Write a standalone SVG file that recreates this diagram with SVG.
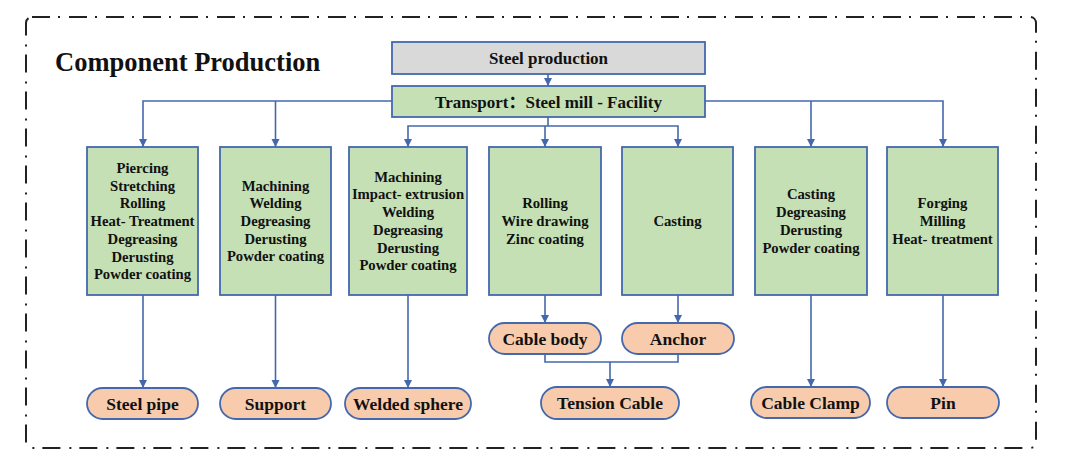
<svg xmlns="http://www.w3.org/2000/svg" width="1080" height="462" viewBox="0 0 1080 462">
<style>
text{font-family:"Liberation Serif","Times New Roman",serif;font-weight:bold;fill:#111;text-anchor:middle}
.cjk{font-family:"Liberation Serif","Noto Sans CJK SC",serif}
.box{fill:#c5e0b4;stroke:#4468ad;stroke-width:1.8}
.gray{fill:#d9d9d9;stroke:#4468ad;stroke-width:1.8}
.pill{fill:#f8cbad;stroke:#4468ad;stroke-width:1.8}
.step{font-size:14.7px}
.hdr{font-size:17px}
.pt{font-size:17.5px}
.con{fill:none;stroke:#4468ad;stroke-width:1.6}
.arr{marker-end:url(#ah)}
</style>
<defs>
<marker id="ah" markerUnits="userSpaceOnUse" markerWidth="10" markerHeight="10" viewBox="0 0 10 10" refX="9" refY="5" orient="auto">
<path d="M1,1 L9,5 L1,9 Z" fill="#4468ad"/>
</marker>
</defs>
<rect x="26" y="17" width="1010" height="431" rx="6" fill="none" stroke="#222" stroke-width="2" stroke-dasharray="18 8 2 9"/>
<text x="55" y="71" style="font-size:26.5px;text-anchor:start">Component Production</text>

<g id="connectors">
<path class="con arr" d="M548,74 V86"/>
<path class="con arr" d="M392,101 H143 V147"/>
<path class="con arr" d="M275.5,101 V147"/>
<path class="con" d="M548,117 V126"/>
<path class="con arr" d="M548,126 H408 V147"/>
<path class="con arr" d="M548,126 H678 V147"/>
<path class="con arr" d="M545,126 V147"/>
<path class="con arr" d="M705,101 H943 V147"/>
<path class="con arr" d="M811,101 V147"/>
<path class="con arr" d="M143,295 V388"/>
<path class="con arr" d="M275.5,295 V388"/>
<path class="con arr" d="M408,295 V388"/>
<path class="con arr" d="M545,295 V323"/>
<path class="con arr" d="M678,295 V323"/>
<path class="con" d="M545,354 V362 H678 V354"/>
<path class="con arr" d="M610,362 V387"/>
<path class="con arr" d="M811,295 V387"/>
<path class="con arr" d="M943,295 V387"/>
</g>

<g id="steel-production">
<rect class="gray" x="392" y="42" width="313" height="32"/>
<text class="hdr" x="548.5" y="64">Steel production</text>
</g>
<g id="transport">
<rect class="box" x="392" y="86" width="313" height="31"/>
<text class="hdr" x="548.5" y="107.5">Transport<tspan class="cjk">：</tspan>Steel mill - Facility</text>
</g>

<g id="box-pipe">
<rect class="box" x="87" y="147" width="111" height="148"/>
<text class="step"><tspan x="142.5" y="173">Piercing</tspan><tspan x="142.5" dy="17.7">Stretching</tspan><tspan x="142.5" dy="17.7">Rolling</tspan><tspan x="142.5" dy="17.7">Heat- Treatment</tspan><tspan x="142.5" dy="17.7">Degreasing</tspan><tspan x="142.5" dy="17.7">Derusting</tspan><tspan x="142.5" dy="17.7">Powder coating</tspan></text>
</g>
<g id="box-support">
<rect class="box" x="220" y="147" width="111" height="148"/>
<text class="step"><tspan x="275.5" y="190.6">Machining</tspan><tspan x="275.5" dy="17.7">Welding</tspan><tspan x="275.5" dy="17.7">Degreasing</tspan><tspan x="275.5" dy="17.7">Derusting</tspan><tspan x="275.5" dy="17.7">Powder coating</tspan></text>
</g>
<g id="box-sphere">
<rect class="box" x="349" y="147" width="118" height="148"/>
<text class="step"><tspan x="408" y="181.75">Machining</tspan><tspan x="408" dy="17.7">Impact- extrusion</tspan><tspan x="408" dy="17.7">Welding</tspan><tspan x="408" dy="17.7">Degreasing</tspan><tspan x="408" dy="17.7">Derusting</tspan><tspan x="408" dy="17.7">Powder coating</tspan></text>
</g>
<g id="box-cable">
<rect class="box" x="489" y="147" width="112" height="148"/>
<text class="step"><tspan x="545" y="208.3">Rolling</tspan><tspan x="545" dy="17.7">Wire drawing</tspan><tspan x="545" dy="17.7">Zinc coating</tspan></text>
</g>
<g id="box-anchor">
<rect class="box" x="622" y="147" width="111" height="148"/>
<text class="step" x="677.5" y="226">Casting</text>
</g>
<g id="box-clamp">
<rect class="box" x="755" y="147" width="112" height="148"/>
<text class="step"><tspan x="811" y="199.45">Casting</tspan><tspan x="811" dy="17.7">Degreasing</tspan><tspan x="811" dy="17.7">Derusting</tspan><tspan x="811" dy="17.7">Powder coating</tspan></text>
</g>
<g id="box-pin">
<rect class="box" x="887" y="147" width="111" height="148"/>
<text class="step"><tspan x="942.5" y="208.3">Forging</tspan><tspan x="942.5" dy="17.7">Milling</tspan><tspan x="942.5" dy="17.7">Heat- treatment</tspan></text>
</g>

<g id="steel-pipe">
<rect class="pill" x="87" y="388" width="111" height="31" rx="15.5"/>
<text class="pt" x="142.5" y="409.5">Steel pipe</text>
</g>
<g id="support">
<rect class="pill" x="220" y="388" width="111" height="31" rx="15.5"/>
<text class="pt" x="275.5" y="409.5">Support</text>
</g>
<g id="welded-sphere">
<rect class="pill" x="345" y="388" width="126" height="31" rx="15.5"/>
<text class="pt" x="408" y="409.5">Welded sphere</text>
</g>
<g id="cable-body">
<rect class="pill" x="489" y="323" width="112" height="31" rx="15.5"/>
<text class="pt" x="545" y="344.5">Cable body</text>
</g>
<g id="anchor">
<rect class="pill" x="622" y="323" width="112" height="31" rx="15.5"/>
<text class="pt" x="678" y="344.5">Anchor</text>
</g>
<g id="tension-cable">
<rect class="pill" x="541" y="387" width="138" height="32" rx="16"/>
<text class="pt" x="610" y="409">Tension Cable</text>
</g>
<g id="cable-clamp">
<rect class="pill" x="751" y="387" width="119" height="31" rx="15.5"/>
<text class="pt" x="810.5" y="408.5">Cable Clamp</text>
</g>
<g id="pin">
<rect class="pill" x="887" y="387" width="112" height="31" rx="15.5"/>
<text class="pt" x="943" y="408.5">Pin</text>
</g>
</svg>
